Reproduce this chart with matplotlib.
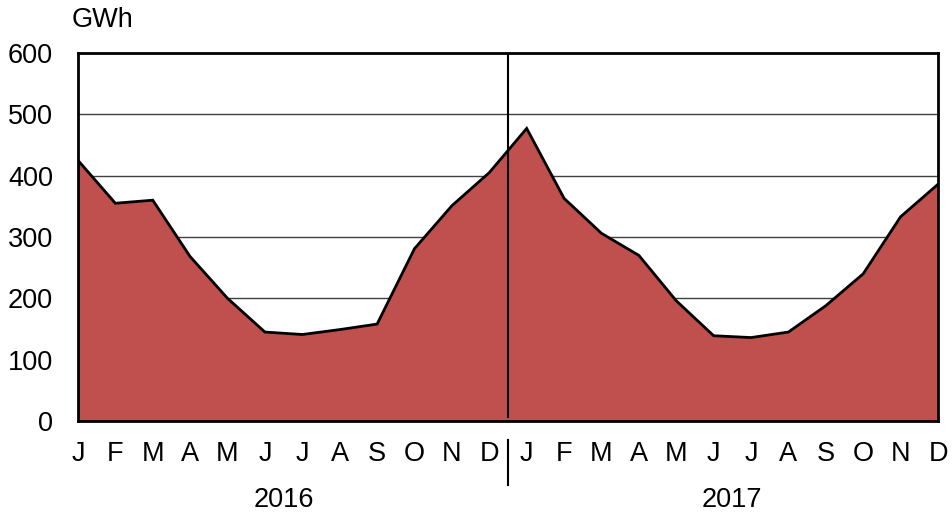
import numpy as np
import matplotlib.pyplot as plt
import matplotlib.transforms as mtransforms

plt.rcParams['font.family'] = ['Liberation Sans', 'DejaVu Sans']

months = ['J', 'F', 'M', 'A', 'M', 'J', 'J', 'A', 'S', 'O', 'N', 'D']
years = ['2016', '2017']
gwh_2016 = [425, 355, 360, 268, 200, 145, 141, 149, 158, 281, 351, 405]
gwh_2017 = [477, 363, 306, 270, 196, 139, 136, 145, 188, 240, 333, 386]

vals = gwh_2016 + gwh_2017
x = np.arange(len(vals))
fs = 19.5

fig = plt.figure(figsize=(9.52, 5.18), dpi=100)
ax = fig.add_axes([0.0819, 0.1873, 0.9034, 0.7104])

ax.fill_between(x, vals, 0, color='#C0504D', zorder=2, linewidth=0)
ax.plot(x, vals, color='black', linewidth=2, zorder=3, solid_joinstyle='miter')

ax.set_xlim(0, len(vals) - 1)
ax.set_ylim(0, 600)
ax.set_yticks(range(0, 601, 100))
ax.yaxis.grid(True, color='#404040', linewidth=1)
ax.set_axisbelow(True)

ax.set_xticks(x)
ax.set_xticklabels(months * 2)
ax.tick_params(axis='both', length=0, labelsize=fs)
ax.tick_params(axis='x', pad=14.5)
ax.tick_params(axis='y', pad=18)

for s in ax.spines.values():
    s.set_linewidth(2)
    s.set_color('black')

# year separator
ax.axvline(11.5, ymin=0.012, ymax=1, color='black', linewidth=1.5, zorder=4)
trans = mtransforms.blended_transform_factory(ax.transData, ax.transAxes)
ax.plot([11.5, 11.5], [-0.052, -0.174], color='black', linewidth=1.5,
        transform=trans, clip_on=False)

for i, yr in enumerate(years):
    ax.text(5.5 + 12 * i, -0.215, yr, transform=trans, ha='center', va='center',
            fontsize=fs)

ax.text(-0.007, 1.09, 'GWh', transform=ax.transAxes, ha='left', va='center',
        fontsize=fs)

fig.savefig('out.png', dpi=100)
